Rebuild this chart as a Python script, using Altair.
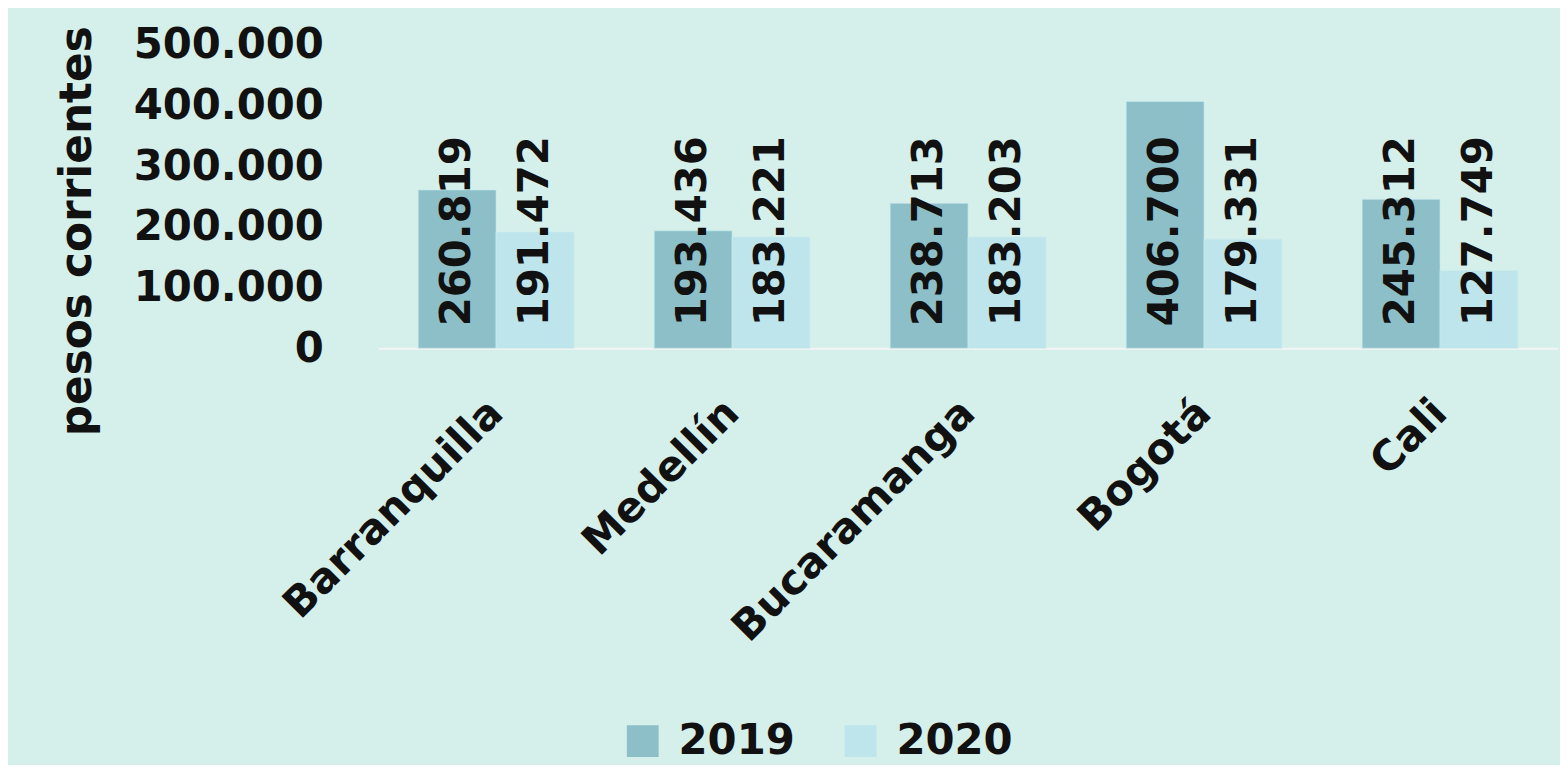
import altair as alt
import pandas as pd

cities = ["Barranquilla", "Medellín", "Bucaramanga", "Bogotá", "Cali"]
years = ["2019", "2020"]
v2019 = [260819, 193436, 238713, 406700, 245312]
v2020 = [191472, 183221, 183203, 179331, 127749]

rows = []
for c, a, b in zip(cities, v2019, v2020):
    rows.append({"city": c, "year": "2019", "value": a})
    rows.append({"city": c, "year": "2020", "value": b})
df = pd.DataFrame(rows)

FONT = "DejaVu Sans"
BG = "#D5EFEA"
C2019 = "#8DBFC8"
C2020 = "#BEE5EB"
FS = 42

base = alt.Chart(df).encode(
    x=alt.X("city:N", sort=cities,
            scale=alt.Scale(paddingInner=0.34, paddingOuter=0.17),
            axis=alt.Axis(title=None, labelAngle=-45, labelAlign="right",
                          labelBaseline="middle", labelPadding=58, ticks=False,
                          labelLimit=0, labelOverlap=False,
                          domain=True, domainColor="#F4F4F4", domainWidth=2,
                          labelFont=FONT, labelFontSize=FS, labelFontWeight="bold",
                          labelColor="#111111")),
    xOffset=alt.XOffset("year:N", sort=years),
)

bars = base.mark_bar(stroke="#C9EDF2", strokeWidth=0.6).encode(
    y=alt.Y("value:Q", scale=alt.Scale(domain=[0, 500000]),
            axis=alt.Axis(values=[0, 100000, 200000, 300000, 400000, 500000],
                          labelExpr="replace(format(datum.value, ','), ',', '.')",
                          grid=False, ticks=False, domain=False, labelPadding=55,
                          labelLimit=0,
                          labelFont=FONT, labelFontSize=FS, labelFontWeight="bold",
                          labelColor="#111111",
                          title="pesos corrientes", titleFont=FONT, titleFontSize=44,
                          titleFontWeight="bold", titleColor="#111111",
                          titleAngle=-90, titleX=-302, titleY=187,
                          titleAlign="center", titleBaseline="middle")),
    color=alt.Color("year:N", sort=years,
                    scale=alt.Scale(domain=years, range=[C2019, C2020]),
                    legend=alt.Legend(title=None, orient="none", direction="horizontal",
                                      legendX=245, legendY=679,
                                      symbolType="square", symbolSize=1024,
                                      symbolStrokeWidth=0, columnPadding=45,
                                      labelFont=FONT, labelFontSize=FS,
                                      labelFontWeight="bold", labelColor="#111111",
                                      labelOffset=15, labelLimit=0)),
)

labels = base.mark_text(angle=270, align="left", baseline="middle", dx=22,
                        font=FONT, fontSize=FS, fontWeight="bold",
                        color="#111111").transform_calculate(
    label="replace(format(datum.value, ','), ',', '.')"
).encode(
    y=alt.datum(0),
    text="label:N",
)

chart = alt.layer(bars, labels).properties(
    width=1186, height=305,
    background=BG,
    padding={"left": 372, "top": 35, "right": 2, "bottom": 417},
    autosize=alt.AutoSizeParams(type="none"),
).configure_view(stroke=None)

chart.save("out.html", embed_options={"renderer": "svg", "actions": False})
